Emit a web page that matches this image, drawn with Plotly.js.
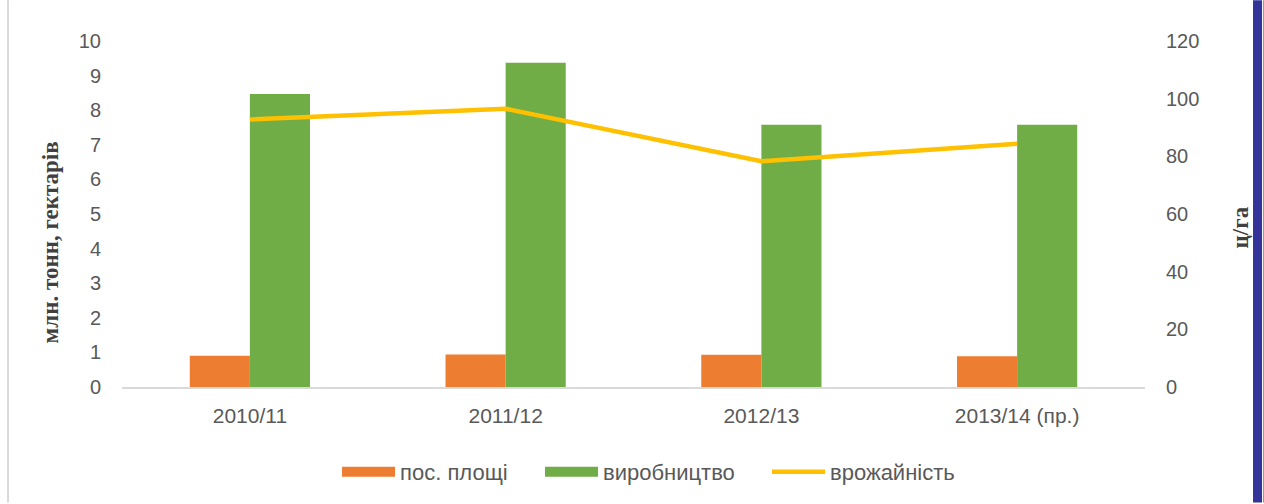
<!DOCTYPE html>
<html>
<head>
<meta charset="utf-8">
<script src="https://cdn.plot.ly/plotly-3.0.1.min.js"></script>
<style>
  html, body { margin: 0; padding: 0; background: #ffffff; }
  #chart { width: 1264px; height: 504px; }
</style>
</head>
<body>
<div id="chart"></div>
<script>
// ---- data ----
const categories = ['2010/11', '2011/12', '2012/13', '2013/14 (пр.)'];
const sownArea = [0.90, 0.94, 0.93, 0.89];        // пос. площі, млн. гектарів
const production = [8.47, 9.37, 7.58, 7.58];      // виробництво, млн. тонн
const cropYield = [92.8, 96.5, 78.3, 84.4];       // врожайність, ц/га

const seriesNames = ['пос. площі', 'виробництво', 'врожайність'];
const seriesColors = ['#ED7D31', '#70AD47', '#FFC000'];
const leftTitle = 'млн. тонн, гектарів';
const rightTitle = 'ц/га';

const sansFont = '"Liberation Sans", Arial, sans-serif';
const tickFont = { family: sansFont, size: 20, color: '#595959' };
const titleFont = { family: '"Liberation Serif", "Times New Roman", serif', size: 23, color: '#404040', weight: 'bold' };
const legendFont = { family: sansFont, size: 22, color: '#595959' };

const traces = [
  {
    type: 'bar', name: seriesNames[0], x: categories, y: sownArea,
    marker: { color: seriesColors[0] }, showlegend: false
  },
  {
    type: 'bar', name: seriesNames[1], x: categories, y: production,
    marker: { color: seriesColors[1] }, showlegend: false
  },
  {
    type: 'scatter', mode: 'lines', name: seriesNames[2], x: categories, y: cropYield,
    yaxis: 'y2', line: { color: seriesColors[2], width: 4.5 }, showlegend: false
  },
  // legend entries (wide swatches)
  { type: 'scatter', mode: 'lines', name: seriesNames[0], x: [null], y: [null], legend: 'legend',
    line: { color: seriesColors[0], width: 16 }, hoverinfo: 'skip' },
  { type: 'scatter', mode: 'lines', name: seriesNames[1], x: [null], y: [null], legend: 'legend2',
    line: { color: seriesColors[1], width: 16 }, hoverinfo: 'skip' },
  { type: 'scatter', mode: 'lines', name: seriesNames[2], x: [null], y: [null], legend: 'legend3',
    line: { color: seriesColors[2], width: 4.5 }, hoverinfo: 'skip' }
];

function legendAt(xp) {
  return {
    orientation: 'h', x: xp, xanchor: 'left', y: -0.242, yanchor: 'middle',
    font: legendFont, itemwidth: 53, bgcolor: 'rgba(0,0,0,0)', borderwidth: 0
  };
}

const layout = {
  width: 1264, height: 504,
  margin: { l: 122, r: 119, t: 41, b: 116, pad: 0 },
  paper_bgcolor: '#ffffff', plot_bgcolor: '#ffffff',
  barmode: 'group', bargap: 0.53, bargroupgap: 0,
  showlegend: true,
  legend: legendAt(0.2102),
  legend2: legendAt(0.4086),
  legend3: legendAt(0.6305),
  xaxis: {
    type: 'category',
    showline: true, linecolor: '#d9d9d9', linewidth: 1.5,
    showgrid: false, zeroline: false, ticks: '',
    ticklabelstandoff: 9,
    tickfont: { family: sansFont, size: 21, color: '#595959' }
  },
  yaxis: {
    range: [0, 10], dtick: 1, tick0: 0,
    showgrid: false, zeroline: false, showline: false, ticks: '',
    ticklabelstandoff: 20,
    tickfont: tickFont
  },
  yaxis2: {
    overlaying: 'y', side: 'right',
    range: [0, 120], dtick: 20, tick0: 0,
    showgrid: false, zeroline: false, showline: false, ticks: '',
    ticklabelstandoff: 20,
    tickfont: tickFont
  },
  annotations: [
    { text: leftTitle, textangle: -90, font: titleFont, showarrow: false,
      xref: 'paper', yref: 'paper', x: (50 - 122) / 1023, y: (388 - 243) / 347,
      xanchor: 'center', yanchor: 'middle' },
    { text: rightTitle, textangle: -90, font: titleFont, showarrow: false,
      xref: 'paper', yref: 'paper', x: (1240 - 122) / 1023, y: (388 - 228) / 347,
      xanchor: 'center', yanchor: 'middle' }
  ],
  shapes: [
    // left light frame edge
    { type: 'line', xref: 'paper', yref: 'paper', x0: -0.1114, x1: -0.1114, y0: -0.334, y1: 1.118,
      line: { color: '#d9d9d9', width: 2 } },
    // right blue border
    { type: 'rect', xref: 'paper', yref: 'paper', x0: 1.1056, x1: 1.1144, y0: -0.334, y1: 1.118,
      fillcolor: '#333399', line: { width: 0 } },
    { type: 'line', xref: 'paper', yref: 'paper', x0: 1.1163, x1: 1.1163, y0: -0.334, y1: 1.118,
      line: { color: '#333399', width: 1 } }
  ]
};

Plotly.newPlot('chart', traces, layout, { displayModeBar: false, staticPlot: true });
</script>
</body>
</html>
